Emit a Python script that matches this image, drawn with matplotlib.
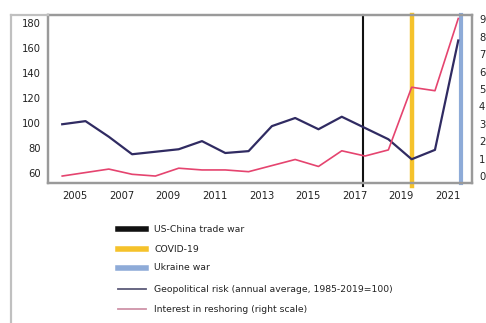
#!/usr/bin/env python3
# Geopolitical risk vs. interest in reshoring, with event markers

import matplotlib
matplotlib.use("Agg")
import matplotlib.pyplot as plt
from matplotlib.lines import Line2D

years = list(range(2004, 2022))
geo_risk = [99, 101.5, 89, 75, 77, 79, 85.5, 76, 77.5, 97.5, 104, 95, 105, 96, 87, 71, 78.5, 166]
reshoring = [0.0, 0.2, 0.4, 0.1, 0.0, 0.45, 0.35, 0.35, 0.25, 0.6, 0.95, 0.55, 1.45, 1.15, 1.5, 5.1, 4.9, 9.05]

events = ["US-China trade war", "COVID-19", "Ukraine war"]
event_years = [2017.35, 2019.45, 2021.55]
event_colors = ["#111111", "#f5c22b", "#8eabd8"]

left_ticks = [60, 80, 100, 120, 140, 160, 180]
right_ticks = list(range(0, 10))
year_ticks = [2005, 2007, 2009, 2011, 2013, 2015, 2017, 2019, 2021]

NAVY = "#302b62"
PINK = "#e5446f"
FRAME = "#9a9a9a"

plt.rcParams["font.family"] = ["DejaVu Sans"]

W, H = 486, 323
fig = plt.figure(figsize=(W / 100, H / 100), dpi=100)
ax = fig.add_axes([48 / W, 1 - 183 / H, (472 - 48) / W, (183 - 15) / H])
ax2 = ax.twinx()

# event markers (trade war and covid poke slightly below the axis)
widths = [1.5, 3.2, 3.0]
for yr, col, lw, i in zip(event_years, event_colors, widths, range(3)):
    lo = -0.02 if i < 2 else 0
    ax.plot([yr, yr], [lo, 1], color=col, lw=lw, transform=ax.get_xaxis_transform(),
            clip_on=False, zorder=1)

xs = [y + 0.45 for y in years]
ax.plot(xs, geo_risk, color=NAVY, lw=1.6, zorder=3)
ax2.plot(xs, reshoring, color=PINK, lw=1.2, zorder=3)

ax.set_xlim(2003.84, 2022.04)
ax.set_ylim(52, 186.4)
ax2.set_ylim(-0.4, 9.25)

ax.set_xticks(year_ticks)
ax.set_yticks(left_ticks)
ax2.set_yticks(right_ticks)
ax.tick_params(length=0, labelsize=7.2, colors="#222222", pad=5)
ax.tick_params(axis="x", pad=6)
ax2.tick_params(length=0, labelsize=7.2, colors="#222222", pad=5)

for a in (ax, ax2):
    for s in a.spines.values():
        s.set_color(FRAME)
        s.set_linewidth(1.6)

# outer frame lines (left side and top stub)
fig.add_artist(Line2D([11 / W, 11 / W], [0, 1 - 15 / H], color="#c0c0c0", lw=1.6))
fig.add_artist(Line2D([11 / W, 48 / W], [1 - 15 / H, 1 - 15 / H], color="#c0c0c0", lw=1.6))

# legend
labels = events + ["Geopolitical risk (annual average, 1985-2019=100)",
                   "Interest in reshoring (right scale)"]
handle_colors = event_colors + ["#5c5a78", "#cf93a8"]
handle_widths = [4, 4, 4, 1.3, 1.3]
rows = [229, 249, 268, 289, 309]
for lab, col, lw, yp in zip(labels, handle_colors, handle_widths, rows):
    fy = 1 - yp / H
    fig.add_artist(Line2D([118 / W, 146 / W], [fy, fy], color=col, lw=lw))
    fig.text(154 / W, fy, lab, fontsize=6.7, va="center", ha="left", color="#222222")

fig.savefig("out.png", dpi=100, facecolor="white")
